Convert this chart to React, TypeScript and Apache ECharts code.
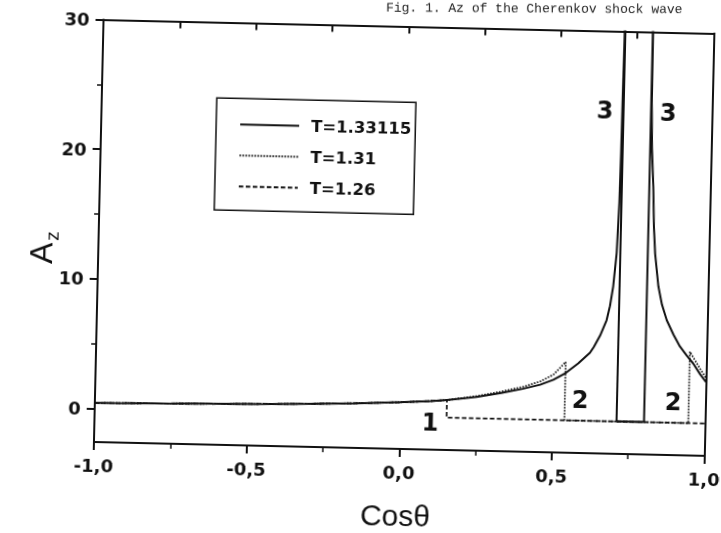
import React, { useEffect, useRef } from "react";
import * as echarts from "echarts";

// Page is a scanned figure: the whole sheet is drawn slightly tilted.
const PAD = 40;
const TILT_DEG = 1.3;
const PAGE_W = 721;
const PAGE_H = 533;

const ink = "#111";

// Axis ticks and their labels
const xTickValues = [-1, -0.5, 0, 0.5, 1];
const xTickLabels = ["-1,0", "-0,5", "0,0", "0,5", "1,0"];
const yTickValues = [0, 10, 20, 30];
const yTickLabels = ["0", "10", "20", "30"];
const yMinorTicks = [5, 15, 25];

// Series names
const seriesNames = ["T=1.33115", "T=1.31", "T=1.26"];

// Level reached after the jump (cosθ, A_z)
const floorLevel = -0.1;

// Common low branch shared by all three temperatures
const lowBranch: [number, number][] = [
  [-1.0, 0.42], [-0.9, 0.45], [-0.75, 0.5], [-0.6, 0.56], [-0.45, 0.63],
  [-0.3, 0.72], [-0.15, 0.84], [0.0, 1.0], [0.1, 1.15], [0.153, 1.25],
];

// T = 1.33115
const solidRise: [number, number][] = [
  [0.25, 1.55], [0.33, 1.9], [0.4, 2.25], [0.457, 2.6], [0.5, 3.0], [0.54, 3.55],
  [0.58, 4.3], [0.618, 5.15], [0.63, 5.6], [0.65, 6.5], [0.67, 7.7], [0.68, 8.8],
  [0.689, 10.3], [0.698, 12.9], [0.703, 16.8], [0.705, 20.6], [0.706, 24.5], [0.708, 30],
];
const solidGap: [number, number][] = [
  [0.71, 40], [0.71, floorLevel], [0.8, floorLevel], [0.8, 40],
];
const solidFall: [number, number][] = [
  [0.801, 30], [0.802, 24.5], [0.806, 21], [0.813, 18.1], [0.818, 15], [0.824, 12.9],
  [0.837, 10.4], [0.85, 9.0], [0.867, 7.8], [0.89, 6.7], [0.912, 5.8], [0.935, 5.1],
  [0.957, 4.5], [0.98, 3.7], [1.0, 3.1],
];

// T = 1.31
const dottedRise: [number, number][] = [
  [0.25, 1.6], [0.33, 2.0], [0.4, 2.4], [0.457, 2.85], [0.5, 3.4], [0.539, 4.4],
];
const dottedGap: [number, number][] = [[0.539, floorLevel], [0.945, floorLevel]];
const dottedTail: [number, number][] = [[0.945, 5.4], [0.96, 4.85], [0.98, 4.1], [1.0, 3.4]];

// T = 1.26
const dashedGap: [number, number][] = [[0.153, floorLevel], [1.0, floorLevel]];

// Curve numbers written next to the jumps
const noteText = ["3", "3", "2", "2", "1"];
const noteX = [0.649, 0.856, 0.589, 0.894, 0.099];
const noteY = [23.9, 23.8, 1.5, 1.5, -0.53];

const solidData = [...lowBranch, ...solidRise, ...solidGap, ...solidFall];
const dottedData = [...lowBranch, ...dottedRise, ...dottedGap, ...dottedTail];
const dashedData = [...lowBranch, ...dashedGap];

const tickFont = {
  fontFamily: "DejaVu Sans",
  fontWeight: "bold" as const,
  fontSize: 18,
  color: ink,
};

function buildOption() {
  const axisLine = { show: true, onZero: false, lineStyle: { color: ink, width: 2 } };
  const hiddenMarker = { color: "transparent", borderWidth: 0, opacity: 0 };
  return {
    animation: false,
    backgroundColor: "#fff",
    grid: {
      left: PAD + 98,
      top: PAD + 25.5,
      width: 610.5,
      height: 422.5,
      show: false,
      containLabel: false,
      outerBoundsMode: "none",
    },
    legend: {
      show: true,
      orient: "vertical",
      left: PAD + 213,
      top: PAD + 101.3,
      itemWidth: 59,
      itemHeight: 14,
      itemGap: 11,
      padding: [16, 4, 14, 23],
      borderColor: ink,
      borderWidth: 1.5,
      borderRadius: 0,
      selectedMode: false,
      data: seriesNames,
      itemStyle: hiddenMarker,
      textStyle: {
        fontFamily: "DejaVu Sans",
        fontWeight: "bold",
        fontSize: 16.5,
        color: ink,
        lineHeight: 20,
        padding: [0, 0, 0, 7],
      },
    },
    xAxis: [
      {
        type: "value",
        position: "bottom",
        min: -1,
        max: 1,
        interval: 0.5,
        axisLine,
        axisTick: { show: true, inside: false, length: 8, lineStyle: { color: ink, width: 2 } },
        minorTick: { show: true, splitNumber: 2, length: 5, lineStyle: { color: ink, width: 1.5 } },
        axisLabel: {
          ...tickFont,
          margin: 14,
          formatter: (v: number) => {
            const i = xTickValues.findIndex((t) => Math.abs(t - v) < 1e-9);
            return i >= 0 ? xTickLabels[i] : "";
          },
        },
        splitLine: { show: false },
        minorSplitLine: { show: false },
      },
      {
        type: "value",
        position: "top",
        min: -1,
        max: 1,
        interval: 0.25,
        axisLine,
        axisTick: { show: true, inside: true, length: 7, lineStyle: { color: ink, width: 2 } },
        axisLabel: { show: false },
        splitLine: { show: false },
      },
    ],
    yAxis: [
      {
        type: "value",
        position: "left",
        min: -2.6,
        max: 30,
        axisLine,
        axisTick: {
          show: true,
          inside: false,
          length: 8,
          customValues: yTickValues,
          lineStyle: { color: ink, width: 2 },
        },
        axisLabel: {
          ...tickFont,
          margin: 14,
          customValues: yTickValues,
          formatter: (v: number) => {
            const i = yTickValues.indexOf(v);
            return i >= 0 ? yTickLabels[i] : "";
          },
        },
        splitLine: { show: false },
      },
      {
        type: "value",
        position: "left",
        min: -2.6,
        max: 30,
        axisLine: { show: false, onZero: false },
        axisTick: {
          show: true,
          inside: false,
          length: 5,
          customValues: yMinorTicks,
          lineStyle: { color: ink, width: 1.5 },
        },
        axisLabel: { show: false },
        splitLine: { show: false },
      },
      {
        type: "value",
        position: "right",
        min: -2.6,
        max: 30,
        axisLine,
        axisTick: { show: false },
        axisLabel: { show: false },
        splitLine: { show: false },
      },
    ],
    series: [
      {
        name: seriesNames[2],
        type: "line",
        data: dashedData,
        symbol: "none",
        silent: true,
        z: 2,
        lineStyle: { color: ink, width: 1.7, type: [4.5, 2.5] },
        itemStyle: hiddenMarker,
      },
      {
        name: seriesNames[1],
        type: "line",
        data: dottedData,
        symbol: "none",
        silent: true,
        z: 3,
        lineStyle: { color: ink, width: 1.8, type: [1.5, 1.5] },
        itemStyle: hiddenMarker,
      },
      {
        name: seriesNames[0],
        type: "line",
        data: solidData,
        symbol: "none",
        silent: true,
        z: 4,
        lineStyle: { color: ink, width: 2 },
        itemStyle: hiddenMarker,
      },
      {
        type: "scatter",
        silent: true,
        z: 5,
        symbolSize: 0.01,
        itemStyle: { color: ink },
        data: noteText.map((t, i) => ({ name: t, value: [noteX[i], noteY[i]] })),
        label: {
          show: true,
          position: "inside",
          formatter: "{b}",
          fontFamily: "DejaVu Sans",
          fontWeight: "bold",
          fontSize: 24,
          color: ink,
          opacity: 1,
          textBorderWidth: 0,
        },
      },
    ],
    graphic: [
      {
        type: "text",
        x: PAD + 400.7,
        y: PAD + 514.5,
        silent: true,
        style: {
          text: "Cosθ",
          fontFamily: "Liberation Sans",
          fontSize: 30,
          fill: ink,
          align: "center",
          verticalAlign: "middle",
          textAlign: "center",
          textVerticalAlign: "middle",
        },
      },
      {
        type: "text",
        x: PAD + 40.8,
        y: PAD + 260.3,
        rotation: Math.PI / 2,
        silent: true,
        style: {
          text: "A",
          fontFamily: "Liberation Sans",
          fontSize: 32,
          fill: ink,
          align: "center",
          verticalAlign: "middle",
          textAlign: "center",
          textVerticalAlign: "middle",
        },
      },
      {
        type: "text",
        x: PAD + 51.4,
        y: PAD + 243.0,
        rotation: Math.PI / 2,
        silent: true,
        style: {
          text: "z",
          fontFamily: "Liberation Sans",
          fontSize: 19,
          fill: ink,
          align: "center",
          verticalAlign: "middle",
          textAlign: "center",
          textVerticalAlign: "middle",
        },
      },
      {
        type: "text",
        x: PAD + 380,
        y: PAD + 1,
        rotation: (1.0 * Math.PI) / 180,
        silent: true,
        style: {
          text: "Fig. 1. Az of the Cherenkov shock wave",
          fontFamily: "Liberation Mono",
          fontSize: 13,
          fill: "#222",
          align: "left",
          verticalAlign: "top",
          textAlign: "left",
          textVerticalAlign: "top",
        },
      },
    ],
  };
}

export default function App() {
  const ref = useRef<HTMLDivElement>(null);

  useEffect(() => {
    if (!ref.current) return;
    const chart = echarts.init(ref.current, null, { renderer: "svg" });
    chart.setOption(buildOption() as any);
    return () => chart.dispose();
  }, []);

  return (
    <div
      ref={ref}
      style={{
        position: "fixed",
        left: -PAD,
        top: -PAD,
        width: PAGE_W + 2 * PAD,
        height: PAGE_H + 2 * PAD,
        transform: `rotate(${TILT_DEG}deg)`,
        transformOrigin: "50% 50%",
        background: "#fff",
      }}
    />
  );
}
